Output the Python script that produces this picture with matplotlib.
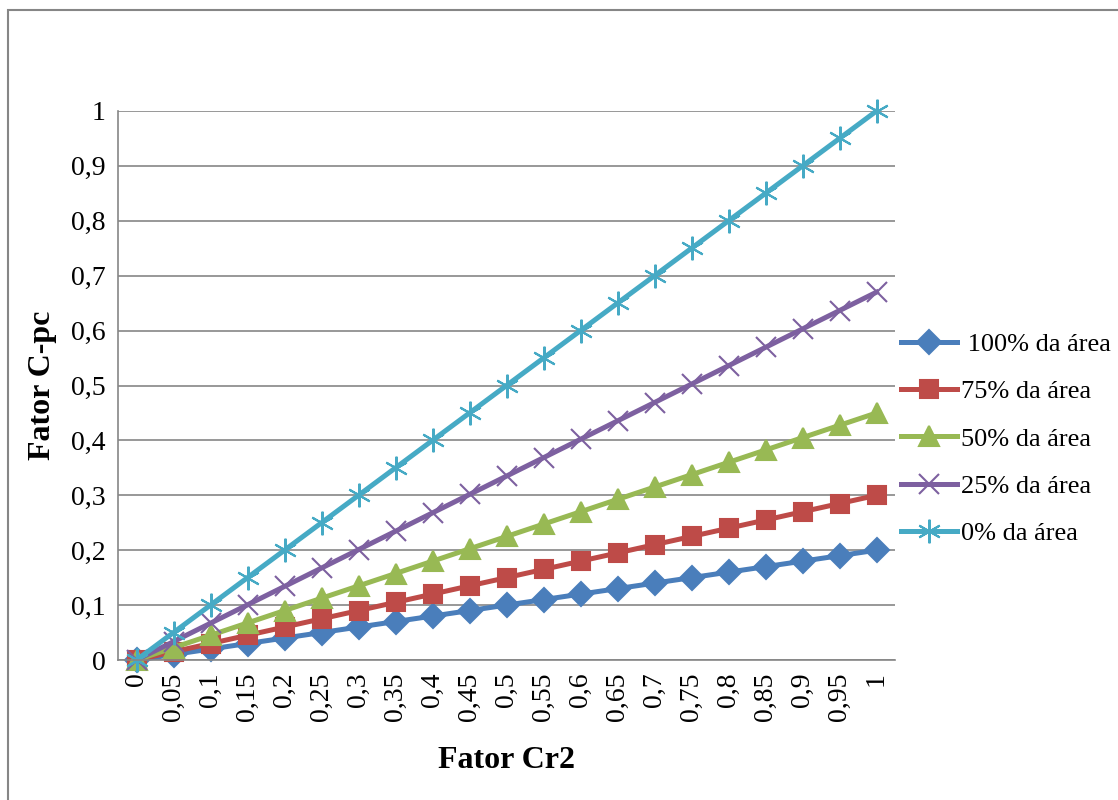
import matplotlib.pyplot as plt
from matplotlib.patches import Rectangle

# categorias do eixo X (Fator Cr2)
categorias = ['0', '0,05', '0,1', '0,15', '0,2', '0,25', '0,3', '0,35', '0,4', '0,45', '0,5',
              '0,55', '0,6', '0,65', '0,7', '0,75', '0,8', '0,85', '0,9', '0,95', '1']

area_100 = [0, 0.01, 0.02, 0.03, 0.04, 0.05, 0.06, 0.07, 0.08, 0.09, 0.10,
            0.11, 0.12, 0.13, 0.14, 0.15, 0.16, 0.17, 0.18, 0.19, 0.20]
area_75 = [0, 0.015, 0.03, 0.045, 0.06, 0.075, 0.09, 0.105, 0.12, 0.135, 0.15,
           0.165, 0.18, 0.195, 0.21, 0.225, 0.24, 0.255, 0.27, 0.285, 0.30]
area_50 = [0, 0.0225, 0.045, 0.0675, 0.09, 0.1125, 0.135, 0.1575, 0.18, 0.2025, 0.225,
           0.2475, 0.27, 0.2925, 0.315, 0.3375, 0.36, 0.3825, 0.405, 0.4275, 0.45]
area_25 = [0, 0.0335, 0.067, 0.1005, 0.134, 0.1675, 0.201, 0.2345, 0.268, 0.3015, 0.335,
           0.3685, 0.402, 0.4355, 0.469, 0.5025, 0.536, 0.5695, 0.603, 0.6365, 0.67]
area_0 = [0, 0.05, 0.1, 0.15, 0.2, 0.25, 0.3, 0.35, 0.4, 0.45, 0.5,
          0.55, 0.6, 0.65, 0.7, 0.75, 0.8, 0.85, 0.9, 0.95, 1.0]

y_ticks = [0, 0.1, 0.2, 0.3, 0.4, 0.5, 0.6, 0.7, 0.8, 0.9, 1]
y_labels = ['0', '0,1', '0,2', '0,3', '0,4', '0,5', '0,6', '0,7', '0,8', '0,9', '1']

plt.rcParams['font.family'] = ['Liberation Serif', 'DejaVu Serif']

fig = plt.figure(figsize=(11.18, 8), dpi=100)
W, H = 1118, 800
ax = fig.add_axes([118 / W, 1 - 660 / H, (895 - 118) / W, (660 - 111) / H])

# borda externa do gráfico
fig.patches.append(Rectangle((8 / W, -0.05), 1.2, 1 - 10 / H + 0.05, transform=fig.transFigure,
                             fill=False, edgecolor='#868686', linewidth=1.5, zorder=0))

x = list(range(len(categorias)))
series = [
    (area_100, ' 100% da área', '#4A7EBB', 'D', 12),
    (area_75, '75% da área', '#BE4B48', 's', 13),
    (area_50, '50% da área', '#98B954', '^', 15),
    (area_25, '25% da área', '#7D60A0', 'x', 14),
    (area_0, '0% da área', '#46AAC5', (6, 2, 0), 17),
]
for vals, nome, cor, mk, ms in series:
    ax.plot(x, vals, color=cor, linewidth=3.6, marker=mk, markersize=ms,
            markeredgecolor=cor, markeredgewidth=1.5, label=nome, clip_on=False)

ax.set_xlim(-0.5, 20.5)
ax.set_ylim(0, 1)
ax.set_xticks(x)
ax.set_xticklabels(categorias, rotation=90, fontsize=20)
ax.set_yticks(y_ticks)
ax.set_yticklabels(y_labels, fontsize=20)
ax.tick_params(length=0, pad=9)
ax.grid(axis='y', color='#868686', linewidth=1.2)
ax.set_axisbelow(True)
for s in ['top', 'right']:
    ax.spines[s].set_visible(False)
for s in ['left', 'bottom']:
    ax.spines[s].set_color('#868686')
    ax.spines[s].set_linewidth(1.2)

ax.set_xlabel('Fator Cr2', fontsize=23, fontweight='bold', labelpad=18)
ax.set_ylabel('Fator C-pc', fontsize=23, fontweight='bold', labelpad=10)

ax.legend(loc='center left', bbox_to_anchor=(1.008, 0.4026), frameon=False, fontsize=19,
          handlelength=2.1, handletextpad=0.15, labelspacing=0.9, borderaxespad=0,
          borderpad=0)

fig.savefig('out.png', dpi=100)
